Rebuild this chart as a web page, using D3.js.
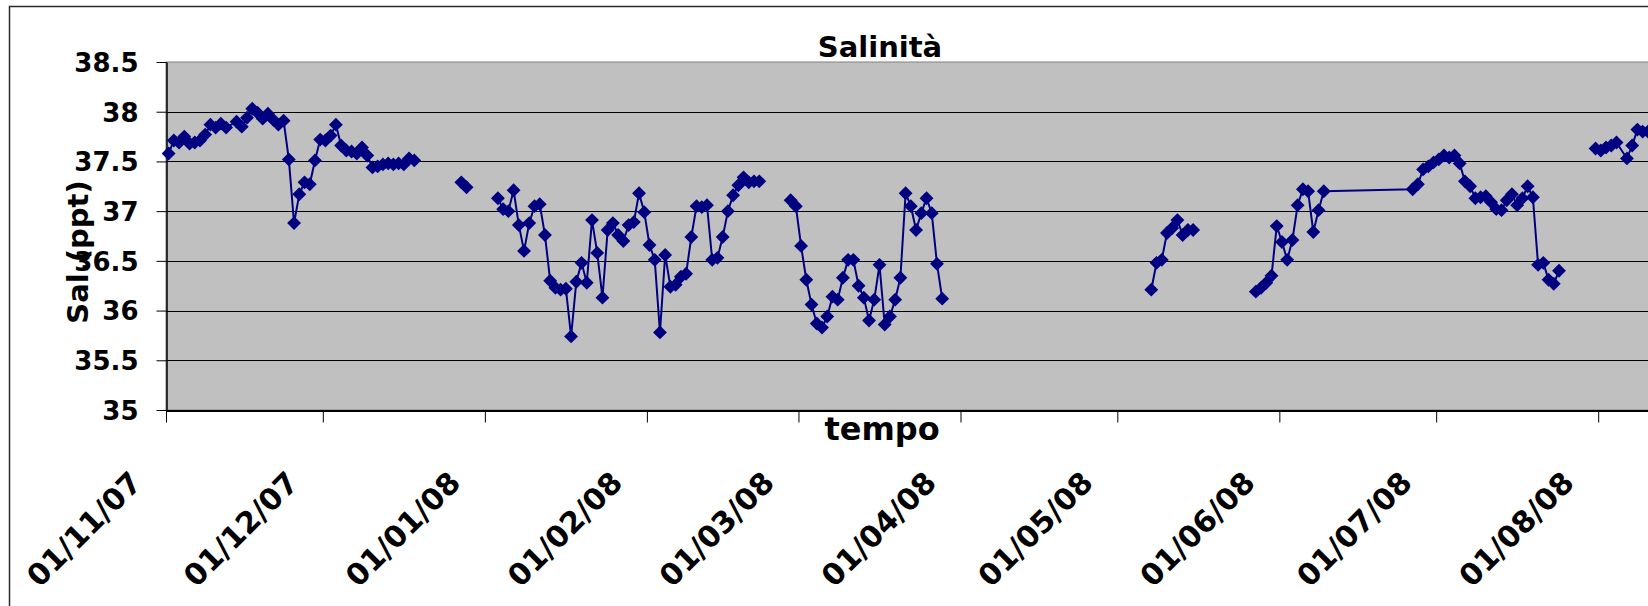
<!DOCTYPE html>
<html>
<head>
<meta charset="utf-8">
<script src="https://cdn.jsdelivr.net/npm/d3@7"></script>
<style>
  html, body { margin: 0; padding: 0; background: #fff; overflow: hidden; }
  svg { display: block; }
  text { font-family: "Comic Sans MS", "DejaVu Sans", sans-serif; font-weight: bold; fill: #000; }
</style>
</head>
<body>
<script>
// ---------------- DATA ----------------
const chartTitle = "Salinità";
const xTitle = "tempo";
const yTitle = "Sal.(ppt)";

const yTickValues = [35, 35.5, 36, 36.5, 37, 37.5, 38, 38.5];
const yTickLabels = ["35", "35.5", "36", "36.5", "37", "37.5", "38", "38.5"];

const xTickDates = ["2007-11-01", "2007-12-01", "2008-01-01", "2008-02-01", "2008-03-01",
                    "2008-04-01", "2008-05-01", "2008-06-01", "2008-07-01", "2008-08-01"];
const xTickLabels = ["01/11/07", "01/12/07", "01/01/08", "01/02/08", "01/03/08",
                     "01/04/08", "01/05/08", "01/06/08", "01/07/08", "01/08/08"];

// measurement dates (null salinity = no reading, line is broken there)
const dates = [
  "2007-11-01","2007-11-02","2007-11-03","2007-11-04","2007-11-05","2007-11-06","2007-11-07","2007-11-08",
  "2007-11-09","2007-11-10","2007-11-11","2007-11-12","2007-11-14","2007-11-15","2007-11-16","2007-11-17",
  "2007-11-18","2007-11-19","2007-11-20","2007-11-21","2007-11-22","2007-11-23","2007-11-24","2007-11-25",
  "2007-11-26","2007-11-27","2007-11-28","2007-11-29","2007-11-30","2007-12-01","2007-12-02","2007-12-03",
  "2007-12-04","2007-12-05","2007-12-06","2007-12-07","2007-12-08","2007-12-09","2007-12-10","2007-12-11",
  "2007-12-12","2007-12-13","2007-12-14","2007-12-15","2007-12-16","2007-12-17","2007-12-18",
  "2007-12-22",
  "2007-12-27","2007-12-28",
  "2007-12-31",
  "2008-01-03","2008-01-04","2008-01-05","2008-01-06","2008-01-07","2008-01-08","2008-01-09","2008-01-10",
  "2008-01-11","2008-01-12","2008-01-13","2008-01-14","2008-01-15","2008-01-16","2008-01-17","2008-01-18",
  "2008-01-19","2008-01-20","2008-01-21","2008-01-22","2008-01-23","2008-01-24","2008-01-25","2008-01-26",
  "2008-01-27","2008-01-28","2008-01-29","2008-01-30","2008-01-31","2008-02-01","2008-02-02","2008-02-03",
  "2008-02-04","2008-02-05","2008-02-06","2008-02-07","2008-02-08","2008-02-09","2008-02-10","2008-02-11",
  "2008-02-12","2008-02-13","2008-02-14","2008-02-15","2008-02-16","2008-02-17","2008-02-18","2008-02-19",
  "2008-02-20","2008-02-21","2008-02-22",
  "2008-02-25",
  "2008-02-28","2008-02-29","2008-03-01","2008-03-02","2008-03-03","2008-03-04","2008-03-05","2008-03-06",
  "2008-03-07","2008-03-08","2008-03-09","2008-03-10","2008-03-11","2008-03-12","2008-03-13","2008-03-14",
  "2008-03-15","2008-03-16","2008-03-17","2008-03-18","2008-03-19","2008-03-20","2008-03-21","2008-03-22",
  "2008-03-23","2008-03-24","2008-03-25","2008-03-26","2008-03-27","2008-03-28",
  "2008-04-15",
  "2008-05-07","2008-05-08","2008-05-09","2008-05-10","2008-05-11","2008-05-12","2008-05-13","2008-05-14",
  "2008-05-15",
  "2008-05-20",
  "2008-05-27","2008-05-28","2008-05-29","2008-05-30","2008-05-31","2008-06-01","2008-06-02","2008-06-03",
  "2008-06-04","2008-06-05","2008-06-06","2008-06-07","2008-06-08","2008-06-09",
  "2008-06-26","2008-06-27","2008-06-28","2008-06-29","2008-06-30","2008-07-01","2008-07-02","2008-07-03",
  "2008-07-04","2008-07-05","2008-07-06","2008-07-07","2008-07-08","2008-07-09","2008-07-10","2008-07-11",
  "2008-07-12","2008-07-13","2008-07-14","2008-07-15","2008-07-16","2008-07-17","2008-07-18","2008-07-19",
  "2008-07-20","2008-07-21","2008-07-22","2008-07-23","2008-07-24",
  "2008-07-28",
  "2008-07-31","2008-08-01","2008-08-02","2008-08-03","2008-08-04","2008-08-06","2008-08-07","2008-08-08",
  "2008-08-09","2008-08-10","2008-08-11"
];

const salinity = [
  37.58,37.71,37.69,37.75,37.68,37.69,37.71,37.77,
  37.87,37.84,37.88,37.84,37.90,37.85,37.94,38.03,
  37.99,37.93,37.98,37.92,37.87,37.91,37.52,36.88,
  37.17,37.29,37.27,37.51,37.72,37.71,37.76,37.87,
  37.66,37.61,37.60,37.58,37.64,37.56,37.44,37.45,
  37.47,37.48,37.47,37.48,37.47,37.53,37.51,
  null,
  37.29,37.24,
  null,
  37.13,37.02,37.00,37.21,36.86,36.60,36.88,37.05,
  37.07,36.76,36.30,36.23,36.21,36.22,35.74,36.29,
  36.48,36.28,36.91,36.58,36.13,36.81,36.88,36.76,
  36.70,36.86,36.89,37.18,36.99,36.66,36.51,35.78,
  36.56,36.24,36.26,36.34,36.37,36.74,37.05,37.04,
  37.06,36.51,36.53,36.74,37.00,37.16,37.26,37.34,
  37.29,37.30,37.30,
  null,
  37.11,37.05,36.65,36.31,36.06,35.87,35.83,35.94,
  36.14,36.11,36.33,36.51,36.51,36.25,36.13,35.90,
  36.11,36.46,35.86,35.94,36.11,36.33,37.18,37.05,
  36.81,36.98,37.13,36.98,36.47,36.12,
  null,
  36.21,36.48,36.51,36.78,36.83,36.91,36.76,36.81,
  36.81,
  null,
  36.19,36.23,36.28,36.35,36.85,36.69,36.51,36.71,
  37.06,37.22,37.20,36.79,37.01,37.20,
  37.22,37.27,37.42,37.45,37.49,37.52,37.56,37.54,
  37.56,37.48,37.30,37.25,37.13,37.14,37.15,37.09,
  37.02,37.01,37.11,37.17,37.06,37.13,37.25,37.14,
  36.46,36.48,36.31,36.27,36.40,
  null,
  37.63,37.61,37.64,37.66,37.69,37.53,37.66,37.82,
  37.80,37.80,37.79
];

// ---------------- LAYOUT ----------------
const W = 1648, H = 606;
const plot = { left: 166, top: 62, bottom: 410 };
const pxPerDay = 5.227;
const parse = d3.utcParse("%Y-%m-%d");

const xStart = parse("2007-11-01"), xEnd = parse("2008-08-20");
const nDays = (xEnd - xStart) / 864e5;
const x = d3.scaleUtc().domain([xStart, xEnd]).range([plot.left, plot.left + nDays * pxPerDay]);
const y = d3.scaleLinear().domain([35, 38.5]).range([plot.bottom, plot.top]);

// readings are plotted at midday of their date
const points = dates.map((d, i) => ({ t: d3.utcHour.offset(parse(d), 12), v: salinity[i] }));

const svg = d3.select("body").append("svg").attr("width", W).attr("height", H);

svg.append("rect").attr("width", W).attr("height", H).attr("fill", "#fff");

// outer chart frame (continues past the right/bottom edges)
svg.append("rect")
  .attr("x", 9.5).attr("y", 6.5).attr("width", 3000).attr("height", 3000)
  .attr("fill", "none").attr("stroke", "#2a2a2a").attr("stroke-width", 1.5);

// plot area
const plotRight = x.range()[1];
svg.append("rect")
  .attr("x", plot.left).attr("y", plot.top)
  .attr("width", plotRight - plot.left).attr("height", plot.bottom - plot.top)
  .attr("fill", "#c0c0c0").attr("stroke", "#808080").attr("stroke-width", 1);

// gridlines
svg.append("g").selectAll("line")
  .data(yTickValues.filter(v => v > 35 && v < 38.5))
  .join("line")
  .attr("x1", plot.left).attr("x2", plotRight)
  .attr("y1", d => Math.round(y(d)) + 0.5).attr("y2", d => Math.round(y(d)) + 0.5)
  .attr("stroke", "#000").attr("stroke-width", 1);

// Y axis
const yAxis = svg.append("g")
  .attr("transform", `translate(${plot.left + 0.5},0)`)
  .call(d3.axisLeft(y).tickValues(yTickValues).tickSize(10).tickSizeOuter(0).tickPadding(18)
        .tickFormat((d, i) => yTickLabels[i]));
yAxis.select(".domain").attr("stroke", "#000").attr("stroke-width", 1.5);
yAxis.selectAll(".tick line").attr("stroke", "#000").attr("stroke-width", 1);
yAxis.selectAll(".tick text")
  .attr("font-size", 26).attr("dy", "0.36em")
  .style("font-family", '"Comic Sans MS", "DejaVu Sans", sans-serif').style("font-weight", "bold");

// X axis
const xAxis = svg.append("g")
  .attr("transform", `translate(0,${plot.bottom + 0.5})`)
  .call(d3.axisBottom(x).tickValues(xTickDates.map(parse)).tickSize(12).tickSizeOuter(0)
        .tickFormat((d, i) => xTickLabels[i]));
xAxis.select(".domain").attr("stroke", "#000").attr("stroke-width", 2);
xAxis.selectAll(".tick line").attr("stroke", "#000").attr("stroke-width", 1);
xAxis.selectAll(".tick text")
  .attr("font-size", 30)
  .attr("y", 0).attr("dy", 0)
  .attr("text-anchor", "end")
  .attr("transform", "translate(-23,74) rotate(-45)")
  .style("font-family", '"Comic Sans MS", "DejaVu Sans", sans-serif').style("font-weight", "bold");

// series line
const line = d3.line()
  .defined(d => d.v !== null)
  .x(d => x(d.t)).y(d => y(d.v));
svg.append("path")
  .datum(points)
  .attr("d", line)
  .attr("fill", "none").attr("stroke", "#000080").attr("stroke-width", 2);

// diamond markers
const diamond = d3.symbol().type(d3.symbolSquare).size(96);
svg.append("g").selectAll("path")
  .data(points.filter(d => d.v !== null))
  .join("path")
  .attr("d", diamond)
  .attr("transform", d => `translate(${x(d.t)},${y(d.v)}) rotate(45)`)
  .attr("fill", "#000080");

// titles
svg.append("text").attr("x", 880).attr("y", 57).attr("text-anchor", "middle")
  .attr("font-size", 29).text(chartTitle);
svg.append("text").attr("x", 882).attr("y", 440).attr("text-anchor", "middle")
  .attr("font-size", 32).text(xTitle);
svg.append("text").attr("transform", "translate(88,252) rotate(-90)").attr("text-anchor", "middle")
  .attr("font-size", 29).text(yTitle);
</script>
</body>
</html>
